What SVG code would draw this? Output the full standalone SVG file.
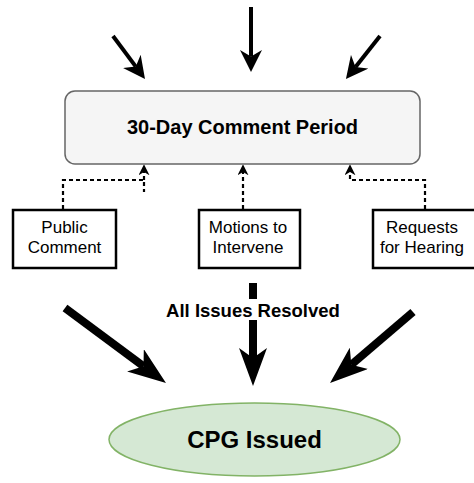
<svg xmlns="http://www.w3.org/2000/svg" width="474" height="483" viewBox="0 0 474 483">
<style>
.t{font-family:"Liberation Sans",Arial,sans-serif;fill:#000;text-anchor:middle}
.b{font-weight:bold}
.box{fill:#fff;stroke:#000;stroke-width:2.5}
.thin{stroke:#000;stroke-width:4;fill:none;marker-end:url(#hThin)}
.thick{stroke:#000;stroke-width:8;fill:none;marker-end:url(#hThick)}
.dash{stroke:#000;stroke-width:2.2;fill:none;stroke-dasharray:4 3}
</style>
<defs>
<marker id="hThin" viewBox="0 0 10 10" refX="3" refY="5" markerWidth="5.5" markerHeight="5.5" markerUnits="strokeWidth" orient="auto">
<path d="M0,0 L10,5 L0,10 L3,5 z" fill="#000"/>
</marker>
<marker id="hThick" viewBox="0 0 38 28" refX="10" refY="14" markerWidth="4.75" markerHeight="3.5" markerUnits="strokeWidth" orient="auto">
<path d="M0,0 L38,14 L0,28 L10,14 z" fill="#000"/>
</marker>
<marker id="hDash" viewBox="0 0 10 10" refX="3" refY="5" markerWidth="5" markerHeight="5" markerUnits="strokeWidth" orient="auto">
<path d="M0,0 L10,5 L0,10 L3,5 z" fill="#000"/>
</marker>
</defs>
<g id="connectors">
<path class="thin" d="M251,7 L251,56.6"/>
<path class="thin" d="M113,36 L135.8,66.6"/>
<path class="thin" d="M380,36 L355.5,66.9"/>
<path class="dash" d="M63,209 V180 H144 V192"/>
<path class="dash" d="M144,180 V172" marker-end="url(#hDash)"/>
<path class="dash" d="M243,209 V172" marker-end="url(#hDash)"/>
<path class="dash" d="M425,209 V180 H350 V172" marker-end="url(#hDash)"/>
<path class="thick" d="M253,283 L253,358"/>
<path class="thick" d="M65,308 L143.5,366.3"/>
<path class="thick" d="M413,312 L351.3,364.8"/>
<rect x="162" y="299" width="182" height="21" fill="#fff"/>
<text class="t b" x="253" y="316.5" font-size="18.5">All Issues Resolved</text>
</g>
<g id="comment-period">
<rect x="65" y="91" width="355" height="73" rx="10" ry="10" fill="#f5f5f5" stroke="#666" stroke-width="1.5"/>
<text class="t b" x="242.5" y="133.5" font-size="20">30-Day Comment Period</text>
</g>
<g id="public-comment">
<rect class="box" x="13" y="210" width="103" height="58"/>
<text class="t" x="64.5" y="233" font-size="17">Public</text>
<text class="t" x="64.5" y="253" font-size="17">Comment</text>
</g>
<g id="motions">
<rect class="box" x="199" y="210" width="101" height="58"/>
<text class="t" x="248" y="233" font-size="17">Motions to</text>
<text class="t" x="248" y="253" font-size="17">Intervene</text>
</g>
<g id="requests">
<rect class="box" x="373" y="210" width="104" height="58"/>
<text class="t" x="422" y="233" font-size="17">Requests</text>
<text class="t" x="422" y="253" font-size="17">for Hearing</text>
</g>
<g id="cpg-issued">
<ellipse cx="254.5" cy="439.5" rx="145.5" ry="36.5" fill="#d5e8d4" stroke="#82b366" stroke-width="1.5"/>
<text class="t b" x="254.5" y="448" font-size="24">CPG Issued</text>
</g>
</svg>
